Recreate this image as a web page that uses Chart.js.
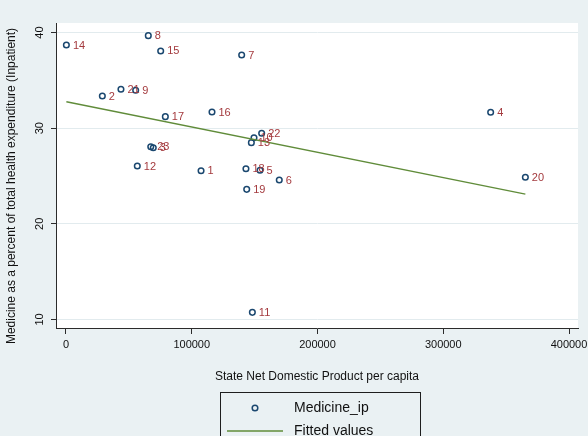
<!DOCTYPE html>
<html>
<head>
<meta charset="utf-8">
<script src="https://cdn.jsdelivr.net/npm/chart.js@4.4.1/dist/chart.umd.min.js"></script>
<style>
  html, body { margin: 0; padding: 0; background: #eaf1f3; }
  #wrap { width: 588px; height: 436px; position: relative; }
  canvas { display: block; }
</style>
</head>
<body>
<div id="wrap"><canvas id="c" width="588" height="436" style="width:588px;height:436px"></canvas></div>
<script>
// ---- data ----
const stateIds = ['1','2','3','4','5','6','7','8','9','10','11','12','13','14','15','16','17','18','19','20','21','22','23'];
const sndpPerCapita = [107400, 28900, 69400, 337700, 154300, 169600, 139700, 65450, 55400, 149500, 148200, 56700, 147400, 300, 75300, 116100, 79000, 143100, 143700, 365300, 43700, 155600, 67400];
const medicineIp = [25.56, 33.37, 27.96, 31.67, 25.60, 24.59, 37.66, 39.68, 33.97, 29.01, 10.75, 26.05, 28.49, 38.70, 38.08, 31.70, 31.21, 25.77, 23.61, 24.87, 34.07, 29.47, 28.07];
const fittedX = [300, 365300];
const fittedY = [32.77, 23.12];
const xTickValues = [0, 100000, 200000, 300000, 400000];
const xTickLabels = ['0', '100000', '200000', '300000', '400000'];
const yTickValues = [10, 20, 30, 40];
const yTickLabels = ['10', '20', '30', '40'];
const seriesNames = ['Medicine_ip', 'Fitted values'];
const xTitle = 'State Net Domestic Product per capita';
const yTitle = 'Medicine as a percent of total health expenditure (Inpatient)';

// ---- styles ----
const FONT = '"Liberation Sans", Arial, Helvetica, sans-serif';
const BG = '#eaf1f3';
const GRID = '#e2ebee';
const NAVY = 'rgb(26,71,111)';
const MAROON = 'rgb(164,58,62)';
const GREEN = 'rgb(96,140,58)';
const AXIS = '#2b2b2b';
const TEXT = '#111111';

const scatterData = sndpPerCapita.map((x, i) => ({ x: x, y: medicineIp[i] }));
const fittedData = fittedX.map((x, i) => ({ x: x, y: fittedY[i] }));

const bgPlugin = {
  id: 'bg',
  beforeDraw(chart) {
    const { ctx, chartArea: a } = chart;
    ctx.save();
    ctx.fillStyle = BG;
    ctx.fillRect(0, 0, chart.width, chart.height);
    ctx.fillStyle = '#ffffff';
    ctx.fillRect(a.left, a.top, a.right - a.left, a.bottom - a.top);
    ctx.restore();
  }
};

const labelPlugin = {
  id: 'pointLabels',
  afterDatasetsDraw(chart) {
    const ctx = chart.ctx;
    const meta = chart.getDatasetMeta(0);
    ctx.save();
    ctx.font = '11px ' + FONT;
    ctx.fillStyle = MAROON;
    ctx.textAlign = 'left';
    ctx.textBaseline = 'middle';
    meta.data.forEach((pt, i) => {
      ctx.fillText(stateIds[i], pt.x + 6.5, pt.y + 0.5);
    });
    ctx.restore();
  }
};

// y-axis title, drawn rotated a little below the plot centre as in the reference
const yTitlePlugin = {
  id: 'yTitle',
  afterDraw(chart) {
    const ctx = chart.ctx;
    ctx.save();
    ctx.translate(12, 186);
    ctx.rotate(-Math.PI / 2);
    ctx.font = '12px ' + FONT;
    ctx.fillStyle = TEXT;
    ctx.textAlign = 'center';
    ctx.textBaseline = 'middle';
    ctx.fillText(yTitle, 0, 0);
    ctx.restore();
  }
};

const legendPlugin = {
  id: 'boxLegend',
  afterDraw(chart) {
    const ctx = chart.ctx;
    ctx.save();
    ctx.strokeStyle = '#1e1e1e';
    ctx.lineWidth = 1;
    ctx.strokeRect(220.5, 392.5, 200, 60);
    // row 1: marker
    ctx.beginPath();
    ctx.arc(255, 408, 2.8, 0, Math.PI * 2);
    ctx.strokeStyle = NAVY;
    ctx.lineWidth = 1.5;
    ctx.stroke();
    // row 2: line
    ctx.beginPath();
    ctx.moveTo(227, 431);
    ctx.lineTo(283, 431);
    ctx.strokeStyle = GREEN;
    ctx.lineWidth = 1.3;
    ctx.stroke();
    ctx.font = '14px ' + FONT;
    ctx.fillStyle = TEXT;
    ctx.textAlign = 'left';
    ctx.textBaseline = 'middle';
    ctx.fillText(chart.data.datasets[0].label, 294, 408);
    ctx.fillText(chart.data.datasets[1].label, 294, 431);
    ctx.restore();
  }
};

new Chart(document.getElementById('c'), {
  type: 'scatter',
  data: {
    datasets: [
      {
        label: seriesNames[0],
        data: scatterData,
        pointStyle: 'circle',
        pointRadius: 2.8,
        pointHoverRadius: 2.8,
        pointBorderWidth: 1.5,
        pointBorderColor: NAVY,
        pointBackgroundColor: 'rgba(0,0,0,0)',
        showLine: false,
        order: 2
      },
      {
        label: seriesNames[1],
        data: fittedData,
        showLine: true,
        borderColor: GREEN,
        borderWidth: 1.3,
        pointRadius: 0,
        fill: false,
        order: 1
      }
    ]
  },
  options: {
    responsive: false,
    animation: false,
    devicePixelRatio: 1,
    layout: { padding: { left: 0, top: 23, right: 10, bottom: 52 } },
    plugins: {
      legend: { display: false },
      tooltip: { enabled: false },
      title: { display: false }
    },
    scales: {
      x: {
        type: 'linear',
        position: 'bottom',
        min: -7952,
        max: 407157,
        bounds: 'data',
        afterBuildTicks: (s) => { s.ticks = xTickValues.map(v => ({ value: v })); },
        afterFit: (s) => { s.height = 56; s.paddingLeft = 0; s.paddingRight = 0; },
        grid: { display: true, drawOnChartArea: false, drawTicks: true, tickLength: 6, tickColor: AXIS, tickWidth: 1 },
        border: { display: true, color: AXIS, width: 1 },
        ticks: {
          padding: 4,
          maxRotation: 0,
          autoSkip: false,
          color: TEXT,
          font: { family: FONT, size: 11 },
          callback: (v, i) => xTickLabels[i]
        },
        title: {
          display: true,
          text: xTitle,
          color: TEXT,
          font: { family: FONT, size: 12 },
          padding: { top: 0, bottom: 0 }
        }
      },
      y: {
        type: 'linear',
        position: 'left',
        min: 9.111,
        max: 41.004,
        bounds: 'data',
        afterBuildTicks: (s) => { s.ticks = yTickValues.map(v => ({ value: v })); },
        afterFit: (s) => { s.width = 56; s.paddingTop = 0; s.paddingBottom = 0; },
        grid: { display: true, drawOnChartArea: true, color: GRID, lineWidth: 1, drawTicks: true, tickLength: 5, tickColor: AXIS, tickWidth: 1 },
        border: { display: true, color: AXIS, width: 1 },
        ticks: {
          padding: 5,
          minRotation: 90,
          maxRotation: 90,
          crossAlign: 'center',
          autoSkip: false,
          color: TEXT,
          font: { family: FONT, size: 11 },
          callback: (v, i) => yTickLabels[i]
        },
        title: { display: false }
      }
    }
  },
  plugins: [bgPlugin, labelPlugin, yTitlePlugin, legendPlugin]
});
</script>
</body>
</html>
